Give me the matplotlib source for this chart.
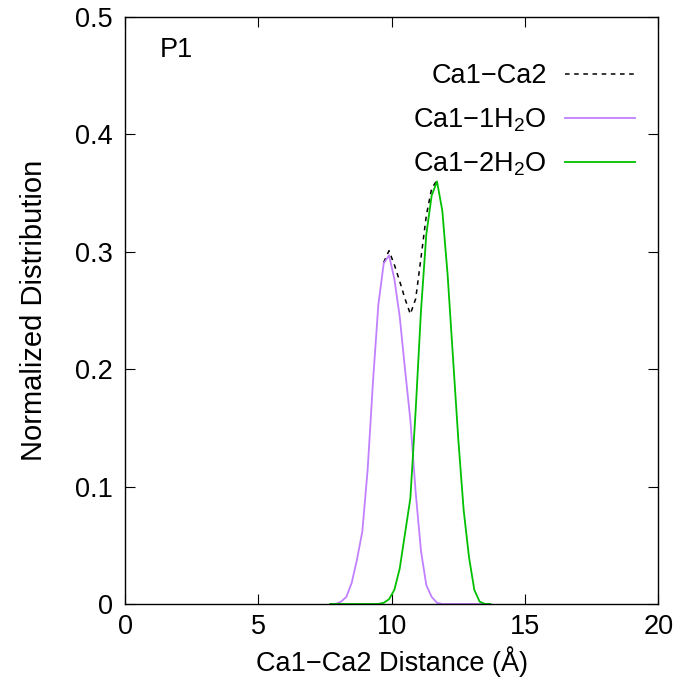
import numpy as np
import matplotlib
matplotlib.use("Agg")
import matplotlib.pyplot as plt

plt.rcParams['font.family'] = ['Liberation Sans', 'DejaVu Sans']
plt.rcParams['mathtext.default'] = 'regular'
plt.rcParams['font.size'] = 19.5

# histogram bin centres (Angstrom)
dist = np.round(np.arange(7.7, 13.71, 0.2), 2)

# Ca1-1H2O distribution
one_h2o = np.array([0.0, 0.0, 0.002, 0.006, 0.018, 0.038, 0.062, 0.115, 0.19, 0.255,
                    0.29, 0.297, 0.277, 0.245, 0.20, 0.157, 0.095, 0.045, 0.016, 0.006,
                    0.001, 0.0, 0.0, 0.0, 0.0, 0.0, 0.0, 0.0, 0.0, 0.0, 0.0])

# Ca1-2H2O distribution
two_h2o = np.array([0.0, 0.0, 0.0, 0.0, 0.0, 0.0, 0.0, 0.0, 0.0, 0.0,
                    0.001, 0.004, 0.012, 0.03, 0.06, 0.09, 0.165, 0.25, 0.315, 0.348,
                    0.36, 0.335, 0.28, 0.21, 0.14, 0.08, 0.04, 0.012, 0.002, 0.0, 0.0])

# total Ca1-Ca2 distribution (only visible where the two overlap)
total = one_h2o + two_h2o
total_shown = np.where((one_h2o > 0) & (two_h2o > 0), total, np.nan)

yticks = [0, 0.1, 0.2, 0.3, 0.4, 0.5]
ytick_labels = ['0', '0.1', '0.2', '0.3', '0.4', '0.5']
xticks = [0, 5, 10, 15, 20]

fig = plt.figure(figsize=(6.8, 6.84), dpi=100)
ax = fig.add_axes([0.184, 0.117, 0.784, 0.858])

ax.plot(dist, total_shown, color='black', lw=1.1, dashes=(3, 3), label='Ca1−Ca2')
ax.plot(dist, one_h2o, color='#c080ff', lw=1.3, label='Ca1−1H$_2$O')
ax.plot(dist, two_h2o, color='#00c000', lw=1.3, label='Ca1−2H$_2$O')

ax.set_xlim(0, 20)
ax.set_ylim(0, 0.5)
ax.set_xticks(xticks)
ax.set_yticks(yticks)
ax.set_yticklabels(ytick_labels)
ax.tick_params(direction='in', top=True, right=True, length=7, width=0.8)
ax.tick_params(axis='y', pad=9)
ax.tick_params(axis='x', pad=7)
for s in ax.spines.values():
    s.set_linewidth(1.0)

ax.set_xlabel('Ca1−Ca2 Distance (Å)', labelpad=5)
ax.set_ylabel('Normalized Distribution', fontsize=21, labelpad=19)

ax.text(1.3, 0.472, 'P1', ha='left', va='center')

ax.legend(loc='upper right', bbox_to_anchor=(0.957, 0.921), frameon=False,
          markerfirst=False, handlelength=2.6, handletextpad=0.66,
          labelspacing=0.62, borderaxespad=0.0, borderpad=0.0)

fig.savefig('out.png', dpi=100)
